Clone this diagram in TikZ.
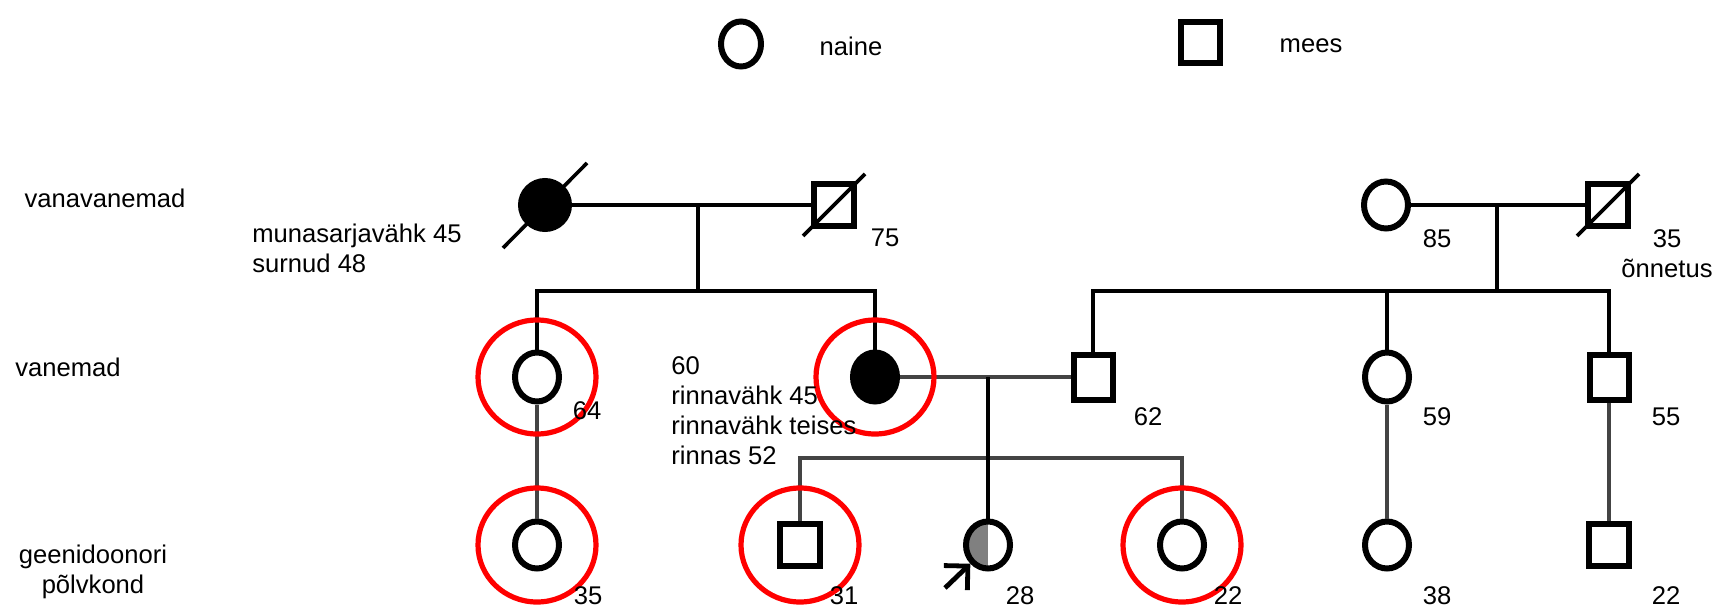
\documentclass[tikz,border=0pt]{standalone}
\usepackage{fontspec}
\setmainfont{Liberation Sans}
\usetikzlibrary{arrows.meta,shapes.geometric}
\definecolor{linegray}{RGB}{68,68,68}
\tikzset{%
  >={Straight Barb[angle=90:12pt]},
  % Specifications for style of nodes:
            base/.style = {draw=black, line width=3pt, inner sep=0pt},
          female/.style = {base, ellipse, minimum width=22pt, minimum height=23.5pt},
            male/.style = {base, rectangle, minimum width=20pt, minimum height=21pt},
        affected/.style = {fill=black},
          proband/.style = {female, path picture={\fill[gray]
                           (path picture bounding box.south west) rectangle
                           (path picture bounding box.north);}},
            ring/.style = {ellipse, draw=red, line width=2.6pt, inner sep=0pt,
                           minimum width=59pt, minimum height=57pt},
             txt/.style = {inner sep=0pt, font=\fontsize{12.8}{15}\selectfont},
  % Specifications for style of lines:
           bline/.style = {draw=black, line width=2.3pt},
           gline/.style = {draw=linegray, line width=2.3pt},
        deadline/.style = {draw=black, line width=1.8pt},
         pointer/.style = {->, draw=black, line width=2.4pt},
}

\begin{document}
\begin{tikzpicture}[x=0.5pt, y=-0.5pt]
  \useasboundingbox (0,0) rectangle (1719,610);

  % Legend
  \node (legf)   [female, minimum width=20pt, minimum height=22.5pt] at (741,44) {};
  \node (legft)  [txt] at (851,46) {naine};
  \node (legm)   [male, minimum width=19.5pt, minimum height=20.5pt] at (1200,43) {};
  \node (legmt)  [txt] at (1311,46) {mees};

  % Generation labels
  \node (gen1)   [txt] at (105,198) {vanavanemad};
  \node (gen2)   [txt] at (68,367) {vanemad};
  \node (gen3)   [txt, align=center] at (93,572) {geenidoonori\\põlvkond};

  % Grandparents
  \node (gm1)    [female, affected, minimum width=24pt, minimum height=24pt] at (545,205) {};
  \node (gf1)    [male] at (834,205) {};
  \node (gm2)    [female] at (1386,205) {};
  \node (gf2)    [male] at (1608,205) {};

  % Parents
  \node (p64)    [female, minimum height=24.5pt] at (537,377) {};
  \node (p60)    [female, affected, minimum height=24.5pt] at (875,377) {};
  \node (p62)    [male, minimum width=19.5pt, minimum height=22.5pt] at (1093,377) {};
  \node (p59)    [female, minimum height=24.5pt] at (1387,377) {};
  \node (p55)    [male, minimum width=19.5pt, minimum height=22.5pt] at (1609,377) {};

  % Gene donor generation
  \node (c35)    [female] at (537,545) {};
  \node (c31)    [male] at (800,545) {};
  \node (prob)   [proband] at (988,545) {};
  \node (c22)    [female] at (1182,545) {};
  \node (c38)    [female] at (1387,545) {};
  \node (c22m)   [male] at (1609,545) {};

  % Junction points
  \coordinate (d1) at (698,205);
  \coordinate (s1) at (698,291);
  \coordinate (d2) at (1497,205);
  \coordinate (s2) at (1497,291);
  \coordinate (d3) at (988,377);
  \coordinate (s3) at (988,458);
  \coordinate (foot) at (945,588);

  % Lines of descent
  \draw[bline]   (gm1) -- (gf1);
  \draw[bline]   (d1) -- (s1);
  \draw[bline]   (s1) -| (p64);
  \draw[bline]   (s1) -| (p60);
  \draw[bline]   (gm2) -- (gf2);
  \draw[bline]   (d2) -- (s2);
  \draw[bline]   (s2) -| (p62);
  \draw[bline]   (s2) -| (p59);
  \draw[bline]   (s2) -| (p55);
  \draw[gline]   (p60) -- (p62);
  \draw[gline]   (s3) -| (c31);
  \draw[gline]   (s3) -| (c22);
  \draw[bline]   (d3) -- (prob);
  \draw[gline]   (p64) -- (c35);
  \draw[gline]   (p59) -- (c38);
  \draw[gline]   (p55) -- (c22m);

  % Deceased
  \draw[deadline] (gm1.center) ++(-42,43) -- ++(84,-85);
  \draw[deadline] (gf1.center) ++(-31,31) -- ++(62,-62);
  \draw[deadline] (gf2.center) ++(-31,31) -- ++(62,-62);

  % Proband arrow
  \draw[pointer] (foot) -- (prob.south west);

  % Tested carriers
  \node (r64)    [ring] at (p64) {};
  \node (r60)    [ring] at (p60) {};
  \node (r35)    [ring] at (c35) {};
  \node (r31)    [ring] at (c31) {};
  \node (r22)    [ring] at (c22) {};

  % Ages and notes
  \node (t1)     [txt, anchor=north west, align=left] at (252,224) {munasarjavähk 45\\surnud 48};
  \node (a75)    [txt] at (885,238) {75};
  \node (a85)    [txt] at (1437,239) {85};
  \node (a35g)   [txt, align=center] at (1667,254) {35\\õnnetus};
  \node (a64)    [txt] at (587,411) {64};
  \node (t2)     [txt, anchor=north west, align=left] at (671,356)
                 {60\\rinnavähk 45\\rinnavähk teises\\rinnas 52};
  \node (a62)    [txt] at (1148,417) {62};
  \node (a59)    [txt] at (1437,417) {59};
  \node (a55)    [txt] at (1666,417) {55};
  \node (a35)    [txt] at (588,596) {35};
  \node (a31)    [txt] at (844,596) {31};
  \node (a28)    [txt] at (1020,596) {28};
  \node (a22)    [txt] at (1228,596) {22};
  \node (a38)    [txt] at (1437,596) {38};
  \node (a22m)   [txt] at (1666,596) {22};

\end{tikzpicture}
\end{document}
